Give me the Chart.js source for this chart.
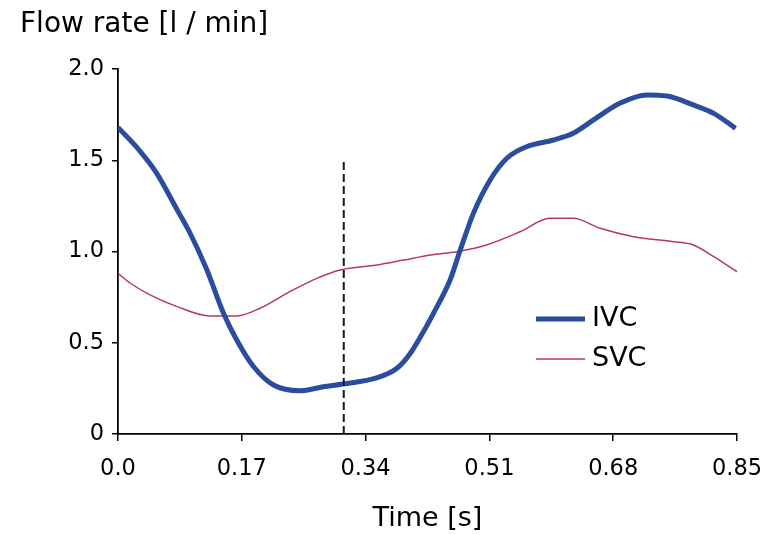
<!DOCTYPE html>
<html><head><meta charset="utf-8">
<script src="https://cdn.jsdelivr.net/npm/chart.js@4/dist/chart.umd.min.js"></script>
<style>html,body{margin:0;padding:0;background:#fff}</style>
</head><body>
<canvas id="c" width="769" height="535"></canvas>
<script>
// ---- data ----
const ivcTime = [0, 0.026, 0.053, 0.081, 0.099, 0.122, 0.145, 0.163, 0.186, 0.213, 0.25, 0.282, 0.309, 0.355, 0.383, 0.401, 0.415, 0.433, 0.456, 0.47, 0.488, 0.511, 0.534, 0.561, 0.598, 0.625, 0.653, 0.689, 0.726, 0.754, 0.79, 0.818, 0.848];
const ivcFlow = [1.68, 1.57, 1.43, 1.23, 1.10, 0.90, 0.66, 0.515, 0.37, 0.27, 0.237, 0.259, 0.274, 0.307, 0.36, 0.44, 0.53, 0.66, 0.844, 1.008, 1.209, 1.392, 1.511, 1.574, 1.611, 1.648, 1.721, 1.812, 1.858, 1.852, 1.803, 1.757, 1.675];
const svcTime = [0, 0.017, 0.044, 0.081, 0.126, 0.163, 0.195, 0.236, 0.273, 0.305, 0.355, 0.392, 0.429, 0.465, 0.506, 0.552, 0.593, 0.625, 0.662, 0.708, 0.763, 0.79, 0.818, 0.85];
const svcFlow = [0.88, 0.826, 0.762, 0.698, 0.647, 0.647, 0.689, 0.78, 0.853, 0.899, 0.926, 0.953, 0.981, 0.999, 1.036, 1.108, 1.182, 1.182, 1.127, 1.081, 1.054, 1.036, 0.972, 0.889];
const markerTime = [0.31, 0.31];
const markerFlow = [0, 1.51];
const xTicks = [0, 0.17, 0.34, 0.51, 0.68, 0.85];
const yTicks = [0, 0.5, 1.0, 1.5, 2.0];
const seriesLabels = ['IVC', 'SVC'];
const yTitle = 'Flow rate [l / min]';
const xTitle = 'Time [s]';

const toPoints = (xs, ys) => xs.map((x, i) => ({x: x, y: ys[i]}));
const FONT = "'DejaVu Sans', sans-serif";

const inlineLegend = {
  id: 'inlineLegend',
  afterDatasetsDraw(chart, args, opts) {
    const ctx = chart.ctx;
    ctx.save();
    let i = 0;
    chart.data.datasets.forEach(ds => {
      if (!seriesLabels.includes(ds.label)) return;
      const y = opts.y + i * opts.gap;
      ctx.beginPath();
      ctx.strokeStyle = ds.borderColor;
      ctx.lineWidth = ds.borderWidth;
      ctx.moveTo(opts.x, y);
      ctx.lineTo(opts.x + opts.len, y);
      ctx.stroke();
      ctx.fillStyle = '#000';
      ctx.font = opts.fontSize + 'px ' + FONT;
      ctx.textBaseline = 'middle';
      ctx.textAlign = 'left';
      ctx.fillText(ds.label, opts.x + opts.len + 7, y);
      i++;
    });
    ctx.restore();
  }
};

new Chart(document.getElementById('c'), {
  type: 'line',
  data: {
    datasets: [
      {label: 'marker', data: toPoints(markerTime, markerFlow), borderColor: '#1a1a1a', borderWidth: 2, borderDash: [8, 4], pointRadius: 0, order: 0},
      {label: seriesLabels[0], data: toPoints(ivcTime, ivcFlow), borderColor: '#2a4d9e', borderWidth: 5, pointRadius: 0, tension: 0.35, cubicInterpolationMode: 'monotone', order: 1},
      {label: seriesLabels[1], data: toPoints(svcTime, svcFlow), borderColor: '#b8385e', borderWidth: 1.5, pointRadius: 0, tension: 0.35, cubicInterpolationMode: 'monotone', order: 2}
    ]
  },
  options: {
    responsive: false,
    animation: false,
    devicePixelRatio: 1,
    layout: {padding: {left: 20, right: 0, top: 0, bottom: 0}},
    plugins: {
      legend: {display: false},
      tooltip: {enabled: false},
      title: {display: true, text: yTitle, align: 'start', color: '#000',
        font: {family: FONT, size: 28, weight: 'normal', lineHeight: 1.2},
        padding: {top: 8, bottom: 27.4}},
      inlineLegend: {x: 536, y: 319, gap: 40, len: 49, fontSize: 27}
    },
    scales: {
      x: {
        type: 'linear', min: 0, max: 0.85,
        afterBuildTicks: s => { s.ticks = xTicks.map(v => ({value: v})); },
        afterFit: s => { s.height = 101; s.paddingRight = 32; s.paddingLeft = 0; },
        ticks: {color: '#000', font: {family: FONT, size: 22.5, weight: 'normal'}, padding: 15, maxRotation: 0,
          callback: v => v === 0 ? '0.0' : v.toFixed(2)},
        grid: {display: true, drawOnChartArea: false, drawTicks: true, tickLength: 7, color: '#000', lineWidth: 1.5},
        border: {display: true, color: '#000', width: 1.8},
        title: {display: true, text: xTitle, color: '#000', font: {family: FONT, size: 27, lineHeight: 1.2}, padding: {top: 0, bottom: 0}}
      },
      y: {
        type: 'linear', min: 0, max: 2,
        afterBuildTicks: s => { s.ticks = yTicks.map(v => ({value: v})); },
        afterFit: s => { s.width = 98; },
        ticks: {color: '#000', font: {family: FONT, size: 22.5, weight: 'normal'}, padding: 8,
          callback: v => v === 0 ? '0' : v.toFixed(1)},
        grid: {display: true, drawOnChartArea: false, drawTicks: true, tickLength: 6, color: '#000', lineWidth: 1.5},
        border: {display: true, color: '#000', width: 1.8}
      }
    }
  },
  plugins: [inlineLegend]
});
</script>
</body></html>
